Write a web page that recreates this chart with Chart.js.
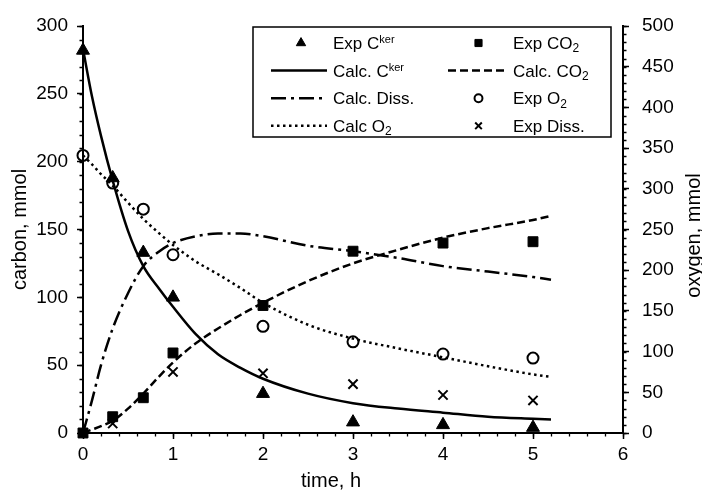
<!DOCTYPE html>
<html lang="en">
<head>
<meta charset="UTF-8" />
<title>carbon / oxygen vs time</title>
<script src="https://cdn.jsdelivr.net/npm/chart.js@4"></script>
<style>
  html, body { margin: 0; padding: 0; background: #fff; }
</style>
</head>
<body>
<canvas id="chart" width="702" height="491"></canvas>
<script>
// ---- data ----
const tExp = [0, 0.33, 0.67, 1, 2, 3, 4, 5];
const expCker = [282, 188, 133, 100, 29, 8, 6, 4];
const expCO2 = [0, 12, 26, 59, 94, 134, 140, 141];
const expO2 = [341, 307, 275, 219, 131, 112, 97, 92];     // oxygen axis
const expDiss = [0, 7, null, 45, 44, 36, 28, 24];

const tCalc = [0, 0.1, 0.2, 0.33, 0.5, 0.67, 0.85, 1, 1.25, 1.5, 1.75, 2, 2.5, 3, 3.5, 4, 4.5, 5, 5.2];
const calcCker = [283, 248, 219, 186, 149, 123, 106, 93, 73, 58, 48, 40, 29, 22, 18, 15, 12, 10.5, 10];
const calcCO2 = [0, 2.5, 5, 9, 18, 29, 42, 52, 66, 77, 87, 96, 112, 125, 135, 144, 151, 157, 160];
const calcDiss = [0, 24, 50, 77, 103, 123, 134, 140, 145, 147, 147, 145, 138, 134, 129, 123, 119, 115, 113];
const calcO2 = [341, 330, 318, 304, 283, 263, 245, 231, 211, 195, 178, 160, 133, 116, 104, 93, 82, 72, 69]; // oxygen axis

const timeTicks = [0, 1, 2, 3, 4, 5, 6];
const carbonTicks = [0, 50, 100, 150, 200, 250, 300];
const oxygenTicks = [0, 50, 100, 150, 200, 250, 300, 350, 400, 450, 500];

const FONT = "'Liberation Sans', Arial, sans-serif";

function pts(xs, ys) {
  return xs.map((x, i) => ({ x: x, y: ys[i] })).filter(p => p.y !== null);
}

function expSet(label, ys, style, radius, fill, axis) {
  return {
    label: label,
    data: pts(tExp, ys),
    yAxisID: axis,
    showLine: false,
    pointStyle: style,
    pointRadius: radius,
    pointBorderWidth: fill ? 1 : 2,
    pointBackgroundColor: fill ? '#000' : 'rgba(0,0,0,0)',
    pointBorderColor: '#000',
    clip: false
  };
}

function calcSet(label, ys, dash, width, axis) {
  return {
    label: label,
    data: pts(tCalc, ys),
    yAxisID: axis,
    showLine: true,
    borderColor: '#000',
    borderWidth: width,
    borderDash: dash,
    pointRadius: 0,
    cubicInterpolationMode: 'monotone',
    clip: false
  };
}

// legend order: row by row, two columns
const datasets = [
  expSet('Exp C^{ker}', expCker, 'triangle', 7.5, true, 'y'),
  expSet('Exp CO_{2}', expCO2, 'rect', 7, true, 'y'),
  calcSet('Calc. C^{ker}', calcCker, [], 2.5, 'y'),
  calcSet('Calc. CO_{2}', calcCO2, [8, 4], 2.5, 'y'),
  calcSet('Calc. Diss.', calcDiss, [15, 5, 3, 5], 2.5, 'y'),
  expSet('Exp O_{2}', expO2, 'circle', 5.5, false, 'y2'),
  calcSet('Calc O_{2}', calcO2, [2.5, 3.5], 2.5, 'y2'),
  expSet('Exp Diss.', expDiss, 'crossRot', 6.5, false, 'y')
];

// text with ^{sup} and _{sub}
function drawRich(ctx, str, x, y, size) {
  const parts = str.split(/(\^\{[^}]*\}|_\{[^}]*\})/).filter(s => s.length);
  parts.forEach(p => {
    let txt = p, sz = size, dy = 0;
    if (p[0] === '^') { txt = p.slice(2, -1); sz = Math.round(size * 0.65); dy = -size * 0.33; }
    else if (p[0] === '_') { txt = p.slice(2, -1); sz = Math.round(size * 0.7); dy = size * 0.2; }
    ctx.font = sz + 'px ' + FONT;
    ctx.fillText(txt, x, y + dy);
    x += ctx.measureText(txt).width;
  });
}

const boxLegend = {
  id: 'boxLegend',
  afterDraw(chart) {
    const ctx = chart.ctx;
    const L = 253, T = 27, R = 611, B = 137;
    ctx.save();
    ctx.fillStyle = '#fff';
    ctx.fillRect(L, T, R - L, B - T);
    ctx.strokeStyle = '#000';
    ctx.lineWidth = 1.5;
    ctx.strokeRect(L, T, R - L, B - T);
    const cols = [{ x0: 271, x1: 327, tx: 333 }, { x0: 448, x1: 505, tx: 513 }];
    chart.data.datasets.forEach((ds, i) => {
      const c = cols[i % 2];
      const y = T + 16 + Math.floor(i / 2) * 27.6;
      ctx.save();
      if (ds.showLine) {
        ctx.strokeStyle = '#000';
        ctx.lineWidth = ds.borderWidth;
        ctx.setLineDash(ds.borderDash);
        ctx.beginPath();
        ctx.moveTo(c.x0, y);
        ctx.lineTo(c.x1, y);
        ctx.stroke();
      } else {
        ctx.fillStyle = ds.pointBackgroundColor;
        ctx.strokeStyle = ds.pointBorderColor;
        ctx.lineWidth = ds.pointBorderWidth;
        Chart.helpers.drawPoint(ctx, {
          pointStyle: ds.pointStyle,
          radius: ds.pointRadius * 0.72,
          rotation: 0,
          borderWidth: ds.pointBorderWidth
        }, (c.x0 + c.x1) / 2 + 2, y);
      }
      ctx.restore();
      ctx.fillStyle = '#000';
      ctx.textBaseline = 'alphabetic';
      ctx.textAlign = 'left';
      drawRich(ctx, ds.label, c.tx, y + 6, 17);
    });
    ctx.restore();
  }
};

const minorTicks = {
  id: 'minorTicks',
  afterDraw(chart) {
    const { ctx, scales } = chart;
    const len = 3.5;
    ctx.save();
    ctx.strokeStyle = '#000';
    ctx.lineWidth = 1.3;
    ctx.beginPath();
    const xs = scales.x;
    for (let v = 0; v <= 6.001; v += 0.2) {
      const p = Math.round(xs.getPixelForValue(v)) + 0.5;
      ctx.moveTo(p, xs.top);
      ctx.lineTo(p, xs.top + len);
    }
    const yl = scales.y;
    for (let v = 0; v <= 300; v += 10) {
      const p = Math.round(yl.getPixelForValue(v)) + 0.5;
      ctx.moveTo(yl.right, p);
      ctx.lineTo(yl.right - len, p);
    }
    const yr = scales.y2;
    for (let v = 0; v <= 500; v += 10) {
      const p = Math.round(yr.getPixelForValue(v)) + 0.5;
      ctx.moveTo(yr.left, p);
      ctx.lineTo(yr.left + len, p);
    }
    ctx.stroke();
    ctx.restore();
  }
};

const axisTitles = {
  id: 'axisTitles',
  afterDraw(chart) {
    const { ctx, chartArea } = chart;
    const midY = (chartArea.top + chartArea.bottom) / 2;
    ctx.save();
    ctx.fillStyle = '#000';
    ctx.font = '20px ' + FONT;
    ctx.textAlign = 'center';
    ctx.textBaseline = 'middle';
    ctx.fillText('time, h', 331, 481);
    ctx.translate(20, midY);
    ctx.rotate(-Math.PI / 2);
    ctx.fillText('carbon, mmol', 0, 0);
    ctx.restore();
    ctx.save();
    ctx.fillStyle = '#000';
    ctx.font = '20px ' + FONT;
    ctx.textAlign = 'center';
    ctx.textBaseline = 'middle';
    ctx.translate(694, midY + 6);
    ctx.rotate(-Math.PI / 2);
    ctx.fillText('oxygen, mmol', 0, 0);
    ctx.restore();
  }
};

function axisBase(ticksArr, min, max) {
  return {
    type: 'linear',
    min: min,
    max: max,
    afterBuildTicks: (scale) => { scale.ticks = ticksArr.map(v => ({ value: v })); },
    grid: { drawOnChartArea: false, drawTicks: true, tickLength: 6, tickWidth: 1.5, tickColor: '#000' },
    border: { display: true, color: '#000', width: 2 },
    ticks: { color: '#000', font: { family: FONT, size: 19 } }
  };
}

const xAxis = axisBase(timeTicks, 0, 6);
xAxis.position = 'bottom';
xAxis.ticks.padding = 4;
xAxis.afterFit = (s) => { s.height = 58; };

const yAxis = axisBase(carbonTicks, 0, 300);
yAxis.position = 'left';
yAxis.ticks.padding = 9;
yAxis.afterFit = (s) => { s.width = 83; };

const y2Axis = axisBase(oxygenTicks, 0, 500);
y2Axis.position = 'right';
y2Axis.ticks.padding = 13;
y2Axis.afterFit = (s) => { s.width = 79; };

new Chart(document.getElementById('chart'), {
  type: 'scatter',
  data: { datasets: datasets },
  options: {
    responsive: false,
    animation: false,
    devicePixelRatio: 1,
    layout: { padding: { top: 26, left: 0, right: 0, bottom: 0 } },
    scales: { x: xAxis, y: yAxis, y2: y2Axis },
    plugins: {
      legend: { display: false },
      tooltip: { enabled: false }
    }
  },
  plugins: [minorTicks, axisTitles, boxLegend]
});
</script>
</body>
</html>
